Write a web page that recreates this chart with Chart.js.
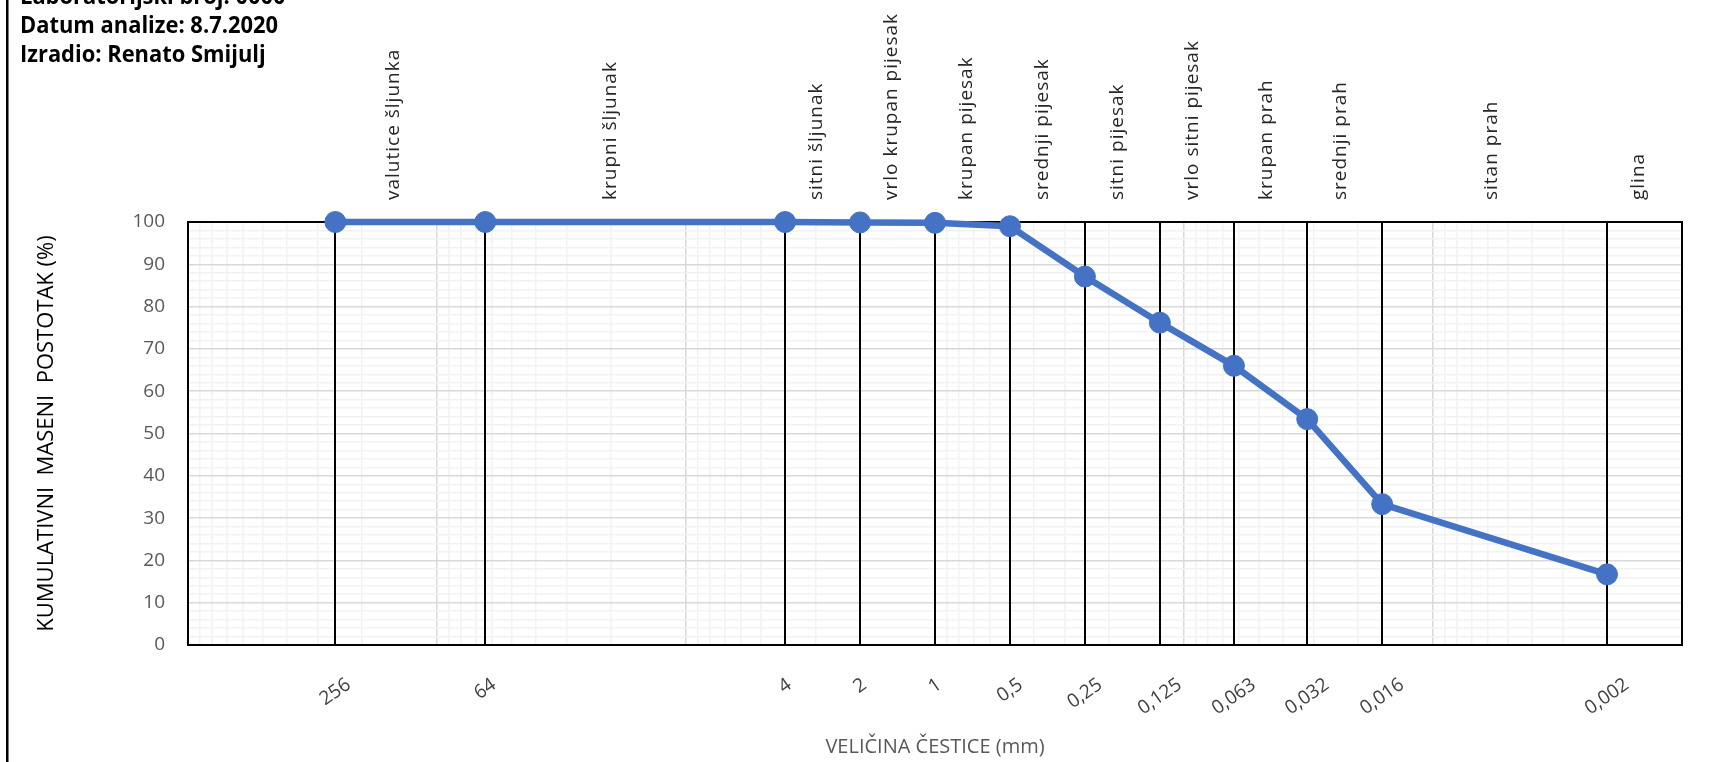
<!DOCTYPE html>
<html><head><meta charset="utf-8">
<script src="https://cdn.jsdelivr.net/npm/chart.js@4/dist/chart.umd.min.js"></script>
<style>html,body{margin:0;padding:0;background:#fff;overflow:hidden}canvas{display:block}</style>
</head><body>
<canvas id="c" width="1716" height="762"></canvas>
<script>
// ---- data ----
const sizes = [256, 64, 4, 2, 1, 0.5, 0.25, 0.125, 0.063, 0.032, 0.016, 0.002];
const sizeLabels = ['256', '64', '4', '2', '1', '0,5', '0,25', '0,125', '0,063', '0,032', '0,016', '0,002'];
const cumulative = [100, 100, 100, 99.9, 99.8, 99.0, 87.1, 76.2, 66.0, 53.4, 33.3, 16.7];
const classNames = ['valutice šljunka', 'krupni šljunak', 'sitni šljunak', 'vrlo krupan pijesak', 'krupan pijesak', 'srednji pijesak', 'sitni pijesak', 'vrlo sitni pijesak', 'krupan prah', 'srednji prah', 'sitan prah', 'glina'];
const classLabelPos = [150, 20, 3, 1.5, 0.75, 0.37, 0.184, 0.092, 0.0464, 0.0234, 0.0058, 0.0015];
const headerLines = ['Laboratorijski broj: 0000', 'Datum analize: 8.7.2020', 'Izradio: Renato Smijulj'];
const yTitle = 'KUMULATIVNI  MASENI  POSTOTAK (%)';
const xTitle = 'VELIČINA ČESTICE (mm)';

// log grid values (1..9 x 10^k)
const gridValues = [];
for (let k = -3; k <= 2; k++) for (let m = 1; m <= 9; m++) gridValues.push(parseFloat((m * Math.pow(10, k)).toPrecision(6)));
gridValues.push(1000);
const isDecade = v => Math.abs(Math.log10(v) - Math.round(Math.log10(v))) < 1e-9;

const decor = {
  id: 'decor',
  beforeDatasetsDraw(chart) {
    const {ctx, chartArea: a} = chart;
    const xs = chart.scales.x;
    ctx.save();
    // sieve lines
    ctx.strokeStyle = '#000'; ctx.lineWidth = 2;
    sizes.forEach(v => {
      const px = Math.round(xs.getPixelForValue(v));
      ctx.beginPath(); ctx.moveTo(px, a.top); ctx.lineTo(px, a.bottom); ctx.stroke();
    });
    ctx.strokeRect(a.left, a.top, a.right - a.left, a.bottom - a.top);
    ctx.restore();
  },
  afterDraw(chart) {
    const ctx = chart.ctx, xs = chart.scales.x, a = chart.chartArea;
    ctx.save();
    // x tick labels (rotated, centred under each sieve line)
    ctx.font = '19px "Open Sans"'; ctx.fillStyle = '#404040';
    const ang = 35 * Math.PI / 180;
    sizes.forEach((v, i) => {
      const px = xs.getPixelForValue(v);
      const t = sizeLabels[i];
      const w = ctx.measureText(t).width, h = 14;
      const H = w * Math.sin(ang) + h * Math.cos(ang);
      ctx.save();
      ctx.translate(px, a.bottom + 32 + H / 2);
      ctx.rotate(-ang);
      ctx.textAlign = 'center'; ctx.textBaseline = 'middle';
      ctx.fillText(t, 0, 0);
      ctx.restore();
    });
    // class names (vertical)
    ctx.font = '19px "Open Sans"'; ctx.fillStyle = '#262626';
    try { ctx.letterSpacing = '1px'; } catch (e) {}
    classNames.forEach((n, i) => {
      const px = xs.getPixelForValue(classLabelPos[i]);
      ctx.save();
      ctx.translate(px, a.top - 22);
      ctx.rotate(-Math.PI / 2);
      ctx.textAlign = 'left'; ctx.textBaseline = 'middle';
      ctx.fillText(n, 0, 0);
      ctx.restore();
    });
    try { ctx.letterSpacing = '0px'; } catch (e) {}
    // header
    ctx.font = 'bold 24px "Open Sans"'; ctx.fillStyle = '#000';
    ctx.textAlign = 'left'; ctx.textBaseline = 'alphabetic';
    const s = 258 / ctx.measureText(headerLines[1]).width;
    headerLines.forEach((t, i) => {
      ctx.save(); ctx.translate(20, 4 + 29 * i); ctx.scale(s, 1); ctx.fillText(t, 0, 0); ctx.restore();
    });
    // outer frame (left edge)
    ctx.fillStyle = '#000';
    ctx.fillRect(6, 0, 2.5, chart.height);
    ctx.restore();
  }
};

new Chart(document.getElementById('c'), {
  type: 'line',
  data: {
    datasets: [{
      data: sizes.map((s, i) => ({x: s, y: cumulative[i]})),
      borderColor: '#4472C4', backgroundColor: '#4472C4',
      borderWidth: 6.5, pointRadius: 10.5, pointHoverRadius: 10.5,
      pointBackgroundColor: '#4472C4', pointBorderColor: '#4472C4', pointBorderWidth: 1,
      tension: 0, clip: false
    }]
  },
  options: {
    responsive: false, animation: false, devicePixelRatio: 1,
    layout: {padding: {top: 222, right: 34, left: 0, bottom: 0}},
    plugins: {legend: {display: false}, tooltip: {enabled: false}},
    scales: {
      x: {
        type: 'logarithmic', reverse: true, min: 0.001, max: 1000,
        afterBuildTicks: sc => { sc.ticks = gridValues.map(v => ({value: v})); },
        afterFit: sc => { sc.height = 117; },
        ticks: {display: false},
        border: {display: false},
        grid: {
          drawTicks: false,
          color: c => (isDecade(c.tick.value) ? '#d9d9d9' : '#f2f2f2'),
          lineWidth: 1.5
        },
        title: {display: true, text: xTitle, color: '#595959', font: {family: 'Open Sans', size: 20}, padding: {top: 0, bottom: 3}}
      },
      y: {
        min: 0, max: 100, z: -1,
        afterFit: sc => { sc.width = 188; },
        ticks: {stepSize: 2, autoSkip: false, padding: 23, color: '#595959', font: {family: 'Open Sans', size: 19},
          callback: v => (Math.round(v) % 10 === 0 ? String(Math.round(v)) : '')},
        border: {display: false},
        grid: {drawTicks: false,
          color: c => (Math.round(c.tick.value) % 10 === 0 ? '#d9d9d9' : '#f2f2f2'), lineWidth: 1.5},
        title: {display: true, text: yTitle, color: '#000', font: {family: 'Open Sans', size: 22}, padding: {top: 34, bottom: 0}}
      }
    }
  },
  plugins: [decor]
});
</script>
</body></html>
